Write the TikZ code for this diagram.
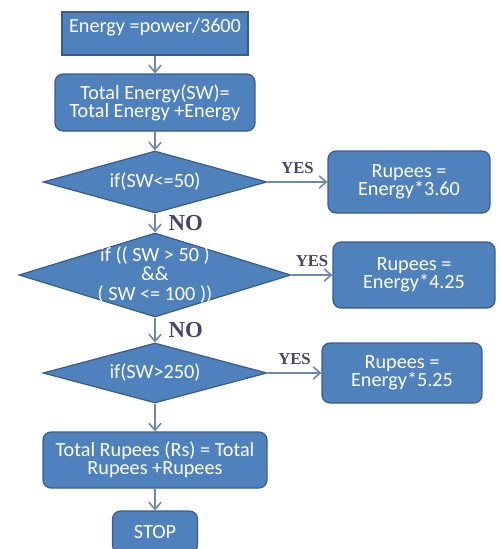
\documentclass[tikz,border=0pt]{standalone}
\usepackage{fontspec}
\setmainfont{Carlito}
\newfontfamily\labelfont{Liberation Serif}
\usepackage{xcolor}
\usetikzlibrary{arrows.meta, shapes.geometric}
\definecolor{boxblue}{RGB}{79,129,189}
\definecolor{boxedge}{RGB}{56,93,138}
\definecolor{arrowgray}{RGB}{110,135,170}
\definecolor{labelnavy}{RGB}{70,70,100}

\begin{document}
\begin{tikzpicture}[x=0.02cm, y=-0.02cm,
    procbox/.style={draw=boxedge, fill=boxblue, line width=0.7pt, rounded corners=0.16cm,
      text=white, align=center, inner sep=0pt, font=\fontsize{11.5}{10.2}\selectfont},
    decision/.style={diamond, aspect=3.2, draw=boxedge, fill=boxblue, line width=0.7pt,
      text=white, align=center, inner sep=0pt, font=\fontsize{11.5}{10.2}\selectfont},
    flow/.style={-{Straight Barb[length=4pt,width=7pt]}, draw=arrowgray, line width=0.9pt},
    yeslabel/.style={font=\labelfont\bfseries\fontsize{9.5}{10}\selectfont, text=labelnavy},
    nolabel/.style={font=\labelfont\bfseries\fontsize{13}{13}\selectfont, text=labelnavy}]
    \useasboundingbox (0,0) rectangle (501,549);
    \clip (0,0) rectangle (501,549);
    % Main column
    \node[procbox, rounded corners=0pt, minimum width=3.72cm, minimum height=0.86cm] (energy) at (155,33.5) {\raisebox{0.12cm}[\height][\depth]{Energy =power/3600}};
    \node[procbox, minimum width=4cm, minimum height=1.14cm] (total) at (155,102.5) {Total Energy(SW)=\\Total Energy +Energy};
    \node[decision, minimum width=4.48cm, minimum height=1.24cm] (ifa) at (155,182) {if(SW<=50)};
    \node[decision, minimum width=5.44cm, minimum height=1.68cm] (ifb) at (155,275) {\raisebox{-0.27cm}{\smash{\begin{tabular}{@{}c@{}}if (( SW > 50 )\\\&\&\\( SW <= 100 ))\end{tabular}}}};
    \node[decision, minimum width=4.48cm, minimum height=1.2cm] (ifc) at (155,373) {if(SW>250)};
    \node[procbox, minimum width=4.48cm, minimum height=1.12cm] (sum) at (155,460) {Total Rupees (Rs) = Total\\Rupees +Rupees};
    \node[procbox, minimum width=1.7cm, minimum height=0.84cm] (stop) at (155,532) {STOP};
    % Rates
    \node[procbox, minimum width=3.24cm, minimum height=1.24cm] (rsa) at (409,182) {Rupees =\\Energy*3.60};
    \node[procbox, minimum width=3.24cm, minimum height=1.32cm] (rsb) at (414,275) {Rupees =\\Energy*4.25};
    \node[procbox, minimum width=3.2cm, minimum height=1.2cm] (rsc) at (402,373) {Rupees =\\Energy*5.25};
    % Arrows
    \draw[flow] (energy) -- (total);
    \draw[flow] (total) -- (ifa);
    \draw[flow] (ifa) -- node[nolabel, right=4pt] {NO} (ifb);
    \draw[flow] (ifb) -- node[nolabel, right=4pt] {NO} (ifc);
    \draw[flow] (ifc) -- (sum);
    \draw[flow] (sum) -- (stop);
    \draw[flow] (ifa) -- node[yeslabel, above=1pt] {YES} (rsa);
    \draw[flow] (ifb) -- node[yeslabel, above=1pt] {YES} (rsb);
    \draw[flow] (ifc) -- node[yeslabel, above=1pt] {YES} (rsc);
  \end{tikzpicture}
\end{document}
